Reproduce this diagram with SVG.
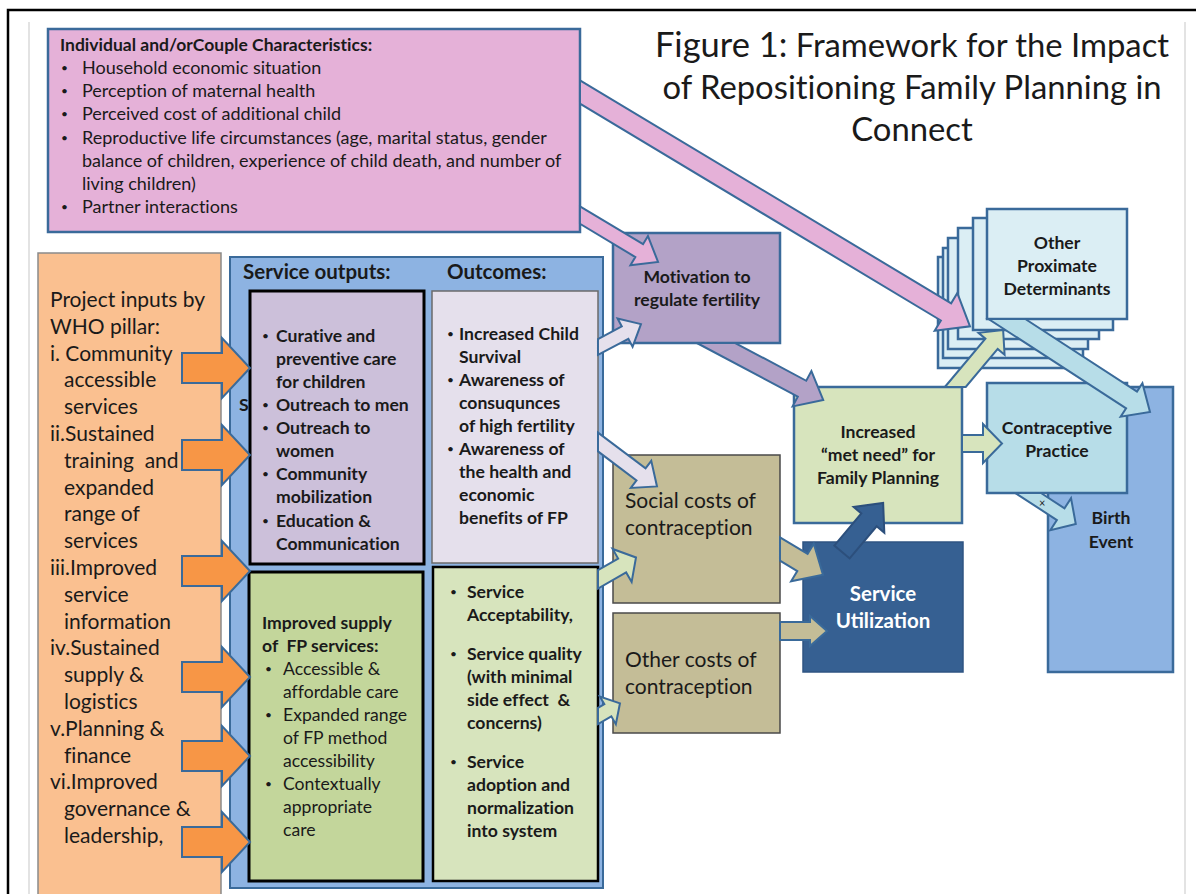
<svg xmlns="http://www.w3.org/2000/svg" width="1196" height="894" viewBox="0 0 1196 894">
  <style>
    .t { font-family: Lato, "Liberation Sans", sans-serif; fill: #1a1a1a; font-variant-ligatures: none; }
    .b { font-weight: bold; }
    .s16 { font-size: 17.6px; }
    .s21 { font-size: 21px; }
    .mid { text-anchor: middle; }
    .dot { font-size: 12px; font-weight: normal; }
    .edge { stroke: #3A6A9A; stroke-width: 2.5; }
    .arr { stroke: #3A6A9A; stroke-width: 2; stroke-linejoin: miter; }
    .stackbox { fill: #DBEEF4; stroke: #3A6A9A; stroke-width: 2.5; }
  </style>

  <!-- page frame -->
  <g id="frame" fill="none">
    <path d="M8,896 L8,10 L1198,10" stroke="#000" stroke-width="2.5"/>
    <line x1="29" y1="22" x2="29" y2="894" stroke="#d0d0d0" stroke-width="1.2"/>
    <line x1="1185" y1="22" x2="1185" y2="894" stroke="#d0d0d0" stroke-width="1.2"/>
  </g>

  <!-- project inputs -->
  <g id="project-inputs">
    <rect x="38" y="253" width="183" height="660" fill="#FAC090" stroke="#8a8a8a" stroke-width="1.5"/>
    <g class="t s21">
      <text x="50" y="307">Project inputs by</text>
      <text x="50" y="333.8">WHO pillar:</text>
      <text x="50" y="360.6">i. Community</text>
      <text x="64" y="387.4">accessible</text>
      <text x="64" y="414.2">services</text>
      <text x="50" y="441">ii.Sustained</text>
      <text x="64" y="467.8" xml:space="preserve">training  and</text>
      <text x="64" y="494.6">expanded</text>
      <text x="64" y="521.4">range of</text>
      <text x="64" y="548.2">services</text>
      <text x="50" y="575">iii.Improved</text>
      <text x="64" y="601.8">service</text>
      <text x="64" y="628.6">information</text>
      <text x="50" y="655.4">iv.Sustained</text>
      <text x="64" y="682.2">supply &amp;</text>
      <text x="64" y="709">logistics</text>
      <text x="50" y="735.8">v.Planning &amp;</text>
      <text x="64" y="762.6">finance</text>
      <text x="50" y="789.4">vi.Improved</text>
      <text x="64" y="816.2">governance &amp;</text>
      <text x="64" y="843">leadership,</text>
    </g>
  </g>

  <!-- service outputs and outcomes panel -->
  <g id="services-panel">
    <rect x="230" y="257" width="373" height="631" fill="#8DB3E2" stroke="#3A6A9A" stroke-width="2"/>
    <text class="t b" x="243" y="279" font-size="20.5">Service outputs:</text>
    <text class="t b" x="447" y="279" font-size="20.5">Outcomes:</text>
    <text class="t b s16" x="239" y="411">S</text>
  </g>

  <g id="service-outputs">
    <rect x="250" y="291" width="174" height="273" fill="#CCC0DA" stroke="#000" stroke-width="3"/>
    <g class="t b s16">
      <text class="dot" x="262" y="340">•</text>
      <text x="276" y="342">Curative and</text>
      <text x="276" y="365">preventive care</text>
      <text x="276" y="388">for children</text>
      <text class="dot" x="262" y="409">•</text>
      <text x="276" y="411">Outreach to men</text>
      <text class="dot" x="262" y="432">•</text>
      <text x="276" y="434">Outreach to</text>
      <text x="276" y="457">women</text>
      <text class="dot" x="262" y="478">•</text>
      <text x="276" y="480">Community</text>
      <text x="276" y="503">mobilization</text>
      <text class="dot" x="262" y="525">•</text>
      <text x="276" y="527">Education &amp;</text>
      <text x="276" y="550">Communication</text>
    </g>
  </g>

  <g id="outcomes">
    <rect x="432" y="291" width="166" height="272" fill="#E5E0EC" stroke="#6b6b6b" stroke-width="1.5"/>
    <g class="t b s16">
      <text class="dot" x="447" y="338">•</text>
      <text x="459" y="340">Increased Child</text>
      <text x="459" y="363">Survival</text>
      <text class="dot" x="447" y="384">•</text>
      <text x="459" y="386">Awareness of</text>
      <text x="459" y="409">consuqunces</text>
      <text x="459" y="432">of high fertility</text>
      <text class="dot" x="447" y="453">•</text>
      <text x="459" y="455">Awareness of</text>
      <text x="459" y="478">the health and</text>
      <text x="459" y="501">economic</text>
      <text x="459" y="524">benefits of FP</text>
    </g>
  </g>

  <g id="fp-supply">
    <rect x="249" y="572" width="174" height="309" fill="#C3D69B" stroke="#000" stroke-width="3"/>
    <g class="t s16">
      <text class="b" x="262" y="629">Improved supply</text>
      <text class="b" x="262" y="652" xml:space="preserve">of  FP services:</text>
      <text class="dot" x="265" y="673">•</text>
      <text x="283" y="675">Accessible &amp;</text>
      <text x="283" y="698">affordable care</text>
      <text class="dot" x="265" y="719">•</text>
      <text x="283" y="721">Expanded range</text>
      <text x="283" y="744">of FP method</text>
      <text x="283" y="767">accessibility</text>
      <text class="dot" x="265" y="788">•</text>
      <text x="283" y="790">Contextually</text>
      <text x="283" y="813">appropriate</text>
      <text x="283" y="836">care</text>
    </g>
  </g>

  <g id="service-outcomes">
    <rect x="433" y="567" width="165" height="314" fill="#D7E4BD" stroke="#000" stroke-width="2.5"/>
    <g class="t b s16">
      <text class="dot" x="450" y="596">•</text>
      <text x="467" y="598">Service</text>
      <text x="467" y="621">Acceptability,</text>
      <text class="dot" x="450" y="658">•</text>
      <text x="467" y="660">Service quality</text>
      <text x="467" y="683">(with minimal</text>
      <text x="467" y="706" xml:space="preserve">side effect  &amp;</text>
      <text x="467" y="729">concerns)</text>
      <text class="dot" x="450" y="766">•</text>
      <text x="467" y="768">Service</text>
      <text x="467" y="791">adoption and</text>
      <text x="467" y="814">normalization</text>
      <text x="467" y="837">into system</text>
    </g>
  </g>

  <!-- individual / couple characteristics -->
  <g id="characteristics">
    <rect x="48" y="29" width="532" height="203" fill="#E5B1D8" class="edge"/>
    <text class="t b" x="60" y="51" font-size="17.5">Individual and/orCouple Characteristics:</text>
    <g class="t" font-size="18">
      <text class="dot" x="61" y="72">•</text><text x="82" y="74">Household economic situation</text>
      <text class="dot" x="61" y="95">•</text><text x="82" y="97">Perception of maternal health</text>
      <text class="dot" x="61" y="118">•</text><text x="82" y="120">Perceived cost of additional child</text>
      <text class="dot" x="61" y="142">•</text><text x="82" y="144">Reproductive life circumstances (age, marital status, gender</text>
      <text x="82" y="167">balance of children, experience of child death, and number of</text>
      <text x="82" y="190">living children)</text>
      <text class="dot" x="61" y="211">•</text><text x="82" y="213">Partner interactions</text>
    </g>
  </g>

  <!-- title -->
  <g id="title" class="t mid" font-size="32.8">
    <text x="912" y="57"><tspan font-size="34.5">Figure 1:</tspan> Framework for the Impact</text>
    <text x="912" y="99">of Repositioning Family Planning in</text>
    <text x="912" y="141">Connect</text>
  </g>

  <g id="motivation">
    <rect x="613" y="233" width="167" height="110" fill="#B3A2C7" class="edge"/>
    <text class="t b s16 mid" x="697" y="283">Motivation to</text>
    <text class="t b s16 mid" x="697" y="306">regulate fertility</text>
  </g>

  <g id="social-costs">
    <rect x="613" y="455" width="167" height="148" fill="#C4BD97" stroke="#4a4a4a" stroke-width="1.5"/>
    <text class="t s21" x="625" y="508">Social costs of</text>
    <text class="t s21" x="625" y="535">contraception</text>
  </g>

  <g id="other-costs">
    <rect x="613" y="613" width="167" height="120" fill="#C4BD97" stroke="#4a4a4a" stroke-width="1.5"/>
    <text class="t s21" x="625" y="667">Other costs of</text>
    <text class="t s21" x="625" y="694">contraception</text>
  </g>

  <g id="service-utilization">
    <rect x="803" y="542" width="160" height="130" fill="#366092" stroke="#2f5482" stroke-width="1.5"/>
    <text class="b mid" x="883" y="601" font-family="Lato, 'Liberation Sans', sans-serif" font-size="20.5" fill="#ffffff">Service</text>
    <text class="b mid" x="883" y="628" font-family="Lato, 'Liberation Sans', sans-serif" font-size="20.5" fill="#ffffff">Utilization</text>
  </g>

  <g id="met-need">
    <rect x="794" y="387" width="168" height="136" fill="#D7E4BD" class="edge"/>
    <text class="t b s16 mid" x="878" y="438">Increased</text>
    <text class="t b s16 mid" x="878" y="461">“met need” for</text>
    <text class="t b s16 mid" x="878" y="484">Family Planning</text>
  </g>

  <g id="proximate-determinants">
    <rect class="stackbox" x="938" y="257" width="140" height="111"/>
    <rect class="stackbox" x="943" y="248" width="140" height="110"/>
    <rect class="stackbox" x="948" y="238" width="140" height="111"/>
    <rect class="stackbox" x="958" y="228" width="141" height="111"/>
    <rect class="stackbox" x="973" y="218" width="140" height="112"/>
    <rect class="stackbox" x="987" y="209" width="140" height="110"/>
    <text class="t b s16 mid" x="1057" y="249">Other</text>
    <text class="t b s16 mid" x="1057" y="272">Proximate</text>
    <text class="t b s16 mid" x="1057" y="295">Determinants</text>
  </g>

  <g id="birth-event">
    <rect x="1048" y="387" width="125" height="285" fill="#8DB3E2" class="edge"/>
    <text class="t b s16 mid" x="1111" y="524">Birth</text>
    <text class="t b s16 mid" x="1111" y="548">Event</text>
  </g>

  <g id="contraceptive-practice">
    <rect x="987" y="383" width="140" height="110" fill="#B7DDE8" class="edge"/>
    <text class="t b s16 mid" x="1057" y="434">Contraceptive</text>
    <text class="t b s16 mid" x="1057" y="457">Practice</text>
  </g>

  <!-- block-arrow connectors -->
  <g id="connectors" class="arr">
    <!-- project inputs into service outputs -->
    <g fill="#F79646">
      <path d="M182,353 L222,353 L222,338 L250,368 L222,398 L222,383 L182,383 Z"/>
      <path d="M182,440 L222,440 L222,425 L250,455 L222,485 L222,470 L182,470 Z"/>
      <path d="M182,556 L222,556 L222,541 L250,571 L222,601 L222,586 L182,586 Z"/>
      <path d="M182,662 L222,662 L222,647 L250,677 L222,707 L222,692 L182,692 Z"/>
      <path d="M182,741 L222,741 L222,726 L250,756 L222,786 L222,771 L182,771 Z"/>
      <path d="M182,827 L222,827 L222,812 L250,842 L222,872 L222,857 L182,857 Z"/>
    </g>
    <!-- characteristics to proximate determinants and motivation -->
    <path fill="#E5B1D8" transform="translate(574.85,88.9) rotate(31)" d="M0,-10 L433,-10 L433,-22 L461,0 L433,22 L433,10 L12,10 Z"/>
    <path fill="#E5B1D8" transform="translate(576.1,212.7) rotate(31)" d="M0,-7.5 L73.6,-7.5 L73.6,-17 L95.6,0 L73.6,17 L73.6,7.5 L9,7.5 Z"/>
    <!-- outcomes to motivation and social costs -->
    <path fill="#E5E0EC" transform="translate(594.7,348.75) rotate(-28)" d="M7.44,-7 L34.4,-7 L34.4,-16 L52.4,0 L34.4,16 L34.4,7 L0,7 Z"/>
    <path fill="#E5E0EC" transform="translate(593.5,438.6) rotate(37)" d="M0,-7.5 L59.5,-7.5 L59.5,-17 L79.5,0 L59.5,17 L59.5,7.5 L11.3,7.5 Z"/>
    <path fill="#D7E4BD" transform="translate(594,581.7) rotate(-30)" d="M9.24,-8 L32.5,-8 L32.5,-19 L48.5,0 L32.5,19 L32.5,8 L0,8 Z"/>
    <path fill="#D7E4BD" transform="translate(594.5,718) rotate(-30)" d="M8.08,-7 L15.4,-7 L15.4,-16 L29.4,0 L15.4,16 L15.4,7 L0,7 Z"/>
    <!-- motivation to met need -->
    <path fill="#B3A2C7" transform="translate(701.1,335.05) rotate(28)" d="M33.9,-9 L114.3,-9 L114.3,-20 L138.3,0 L114.3,20 L114.3,9 L0,9 Z"/>
    <!-- costs to service utilization -->
    <path fill="#C4BD97" transform="translate(774.85,545.9) rotate(31)" d="M0,-10 L32.2,-10 L32.2,-22 L56.2,0 L32.2,22 L32.2,10 L12,10 Z"/>
    <path fill="#C4BD97" d="M780,622 L810,622 L810,616 L827,631 L810,646 L810,640 L780,640 Z"/>
    <!-- service utilization to met need -->
    <path fill="#366092" stroke="#2c4f7c" transform="translate(842,552) rotate(-50)" d="M0,-10 L42,-10 L42,-20 L64,0 L42,20 L42,10 L0,10 Z"/>
    <!-- met need to proximate determinants and contraceptive practice -->
    <path fill="#D7E4BD" transform="translate(951,392.14) rotate(-50)" d="M0,-8 L63.1,-8 L63.1,-17 L81.1,0 L63.1,17 L63.1,8 L13.4,8 Z"/>
    <path fill="#D7E4BD" d="M962,435 L983,435 L983,424 L1002,443.5 L983,463 L983,452 L962,452 Z"/>
    <!-- to birth event -->
    <path fill="#B7DDE8" transform="translate(994,310.6) rotate(33)" d="M30.8,-10 L164,-10 L164,-20 L186,0 L164,20 L164,10 L0,10 Z"/>
    <path fill="#B7DDE8" transform="translate(1019,487.1) rotate(33)" d="M21.6,-7 L49.7,-7 L49.7,-19 L67.7,0 L49.7,19 L49.7,7 L0,7 Z"/>
    <text x="1039" y="507" stroke="none" fill="#1a1a1a" font-family="Lato, 'Liberation Sans', sans-serif" font-size="11">×</text>
  </g>
</svg>
